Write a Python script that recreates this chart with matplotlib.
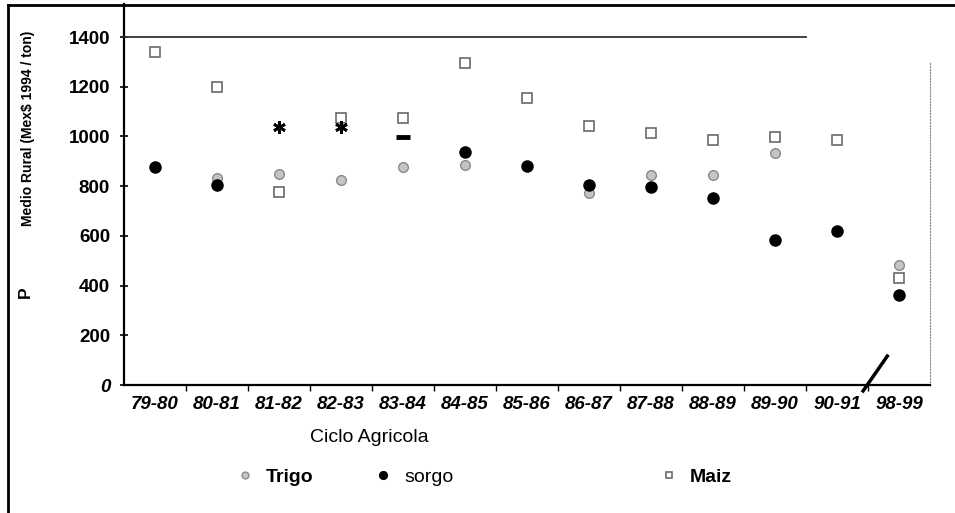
import numpy as np
import matplotlib
matplotlib.use('Agg')
import matplotlib.pyplot as plt
from matplotlib.lines import Line2D

plt.rcParams['font.family'] = ['Liberation Sans', 'DejaVu Sans']

# ciclos agricolas
ciclos = ['79-80', '80-81', '81-82', '82-83', '83-84', '84-85', '85-86',
          '86-87', '87-88', '88-89', '89-90', '90-91', '98-99']
nan = np.nan
trigo = [nan, 833, 849, 825, 877, 885, nan, 772, 845, 845, 933, nan, 483]
sorgo = [877, 805, nan, nan, nan, 937, 881, 805, 797, 752, 583, 619, 362]
maiz = [1340, 1199, 776, 1074, 1074, 1295, 1155, 1042, 1014, 985, 998, 985, 430]
# marcas sueltas que aparecen en la grafica original
asteriscos = [nan, nan, 1038, 1038, nan, nan, nan, nan, nan, nan, nan, nan, nan]
guion = [nan, nan, nan, nan, 998, nan, nan, nan, nan, nan, nan, nan, nan]

x = np.arange(len(ciclos))

fig = plt.figure(figsize=(9.55, 5.13), dpi=100)
ax = fig.add_axes([124/955, 1-385/513, (930-124)/955, 348/513])

h_trigo, = ax.plot(x, trigo, linestyle='none', marker='o', ms=7,
                   mfc='#c4c4c4', mec='#8a8a8a', mew=1)
h_sorgo, = ax.plot(x, sorgo, linestyle='none', marker='o', ms=8,
                   mfc='black', mec='black')
h_maiz, = ax.plot(x, maiz, linestyle='none', marker='s', ms=7,
                  mfc='white', mec='#6a6a6a', mew=1.2)
ax.plot(x, asteriscos, linestyle='none', marker=(6, 2, 0), ms=9, mew=2,
        color='black')
ax.plot(x, guion, linestyle='none', marker='_', ms=10, mew=3.5, color='black')

ax.set_xlim(-0.5, 12.5)
ax.set_ylim(0, 1400)
ax.set_yticks(range(0, 1401, 200))
ax.set_yticklabels(['0'] + [str(v) for v in range(200, 1401, 200)],
                   fontsize=13.5, fontweight='bold')
ax.get_yticklabels()[0].set_style('italic')
ax.tick_params(axis='y', direction='inout', length=6, width=1.2, pad=7)

ax.set_xticks(x)
ax.set_xticklabels(ciclos, fontsize=13.5, fontweight='bold', style='italic')
ax.set_xticks(x[:-1] + 0.5, minor=True)
ax.tick_params(axis='x', which='major', length=0, pad=8)
ax.tick_params(axis='x', which='minor', direction='out', length=4, width=1)

ax.spines['left'].set_linewidth(1.6)
ax.spines['bottom'].set_linewidth(1.6)
ax.spines['top'].set_color('#333333')
ax.spines['top'].set_linewidth(1.3)
ax.spines['top'].set_bounds(-0.5, 10.5)
ax.spines['right'].set_color('#888888')
ax.spines['right'].set_linestyle(':')
ax.spines['right'].set_bounds(0, 1300)

# eje vertical que sube hasta el marco
ax.add_artist(Line2D([0, 0], [1, 1.095], transform=ax.transAxes,
                     color='black', lw=1.6, clip_on=False))
# corte del eje entre 90-91 y 98-99
ax.add_artist(Line2D([0.917, 0.947], [-0.017, 0.083], transform=ax.transAxes,
                     color='black', lw=2.5, clip_on=False))

# marco de la figura
fig.add_artist(Line2D([8/955, 8/955], [0, 1-5/513], color='black', lw=2))
fig.add_artist(Line2D([8/955, 1], [1-5/513, 1-5/513], color='black', lw=2))

fig.text(0.029, 0.749, 'Medio Rural (Mex$ 1994 / ton)', rotation=90,
         ha='center', va='center', fontsize=10, fontweight='bold')
fig.text(0.027, 0.43, 'P', rotation=90, ha='center', va='center',
         fontsize=12.5, fontweight='bold')
fig.text(0.387, 0.148, 'Ciclo Agricola', ha='center', va='center', fontsize=14)

# leyenda
entradas = [(h_trigo, 'Trigo', 'bold', 235/955),
            (h_sorgo, 'sorgo', 'normal', 373/955),
            (h_maiz, 'Maiz', 'bold', 659/955)]
for h, nombre, peso, xpos in entradas:
    leg = fig.legend([h], [nombre], loc='center left', bbox_to_anchor=(xpos, 0.07),
                     frameon=False, fontsize=14, handlelength=1, handletextpad=0.6,
                     borderpad=0, borderaxespad=0, markerscale=0.7)
    leg.get_texts()[0].set_fontweight(peso)

fig.savefig('out.png', dpi=100)
